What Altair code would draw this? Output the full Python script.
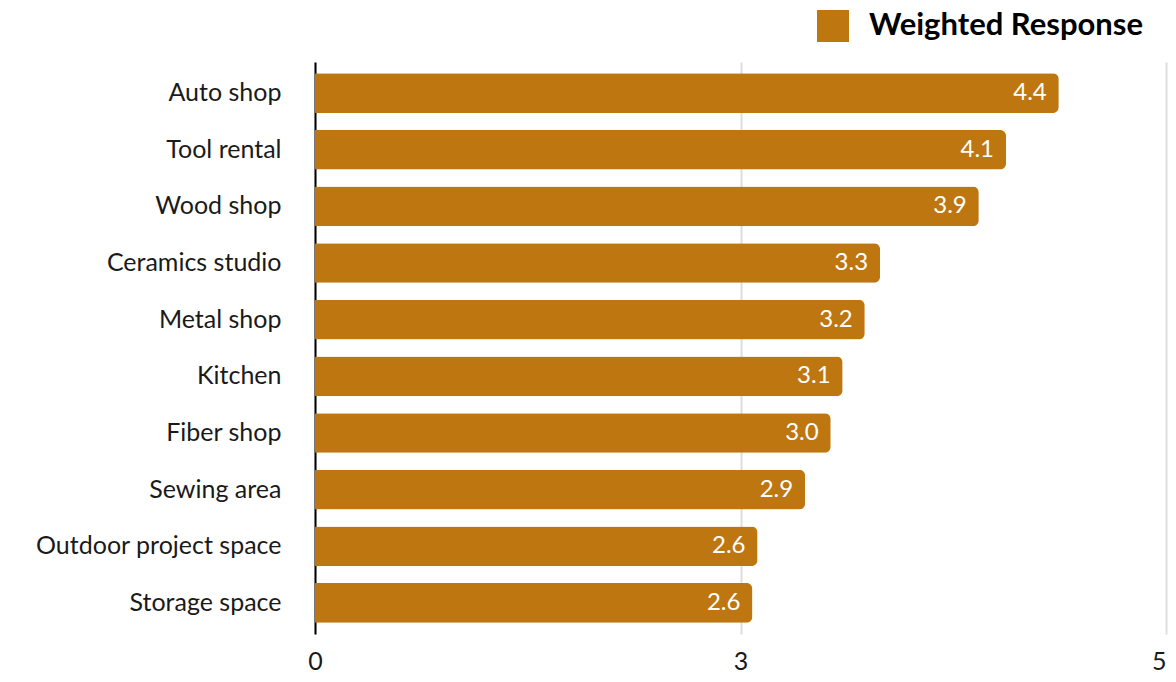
import altair as alt
import pandas as pd

categories = ["Auto shop", "Tool rental", "Wood shop", "Ceramics studio", "Metal shop",
              "Kitchen", "Fiber shop", "Sewing area", "Outdoor project space", "Storage space"]
values = [4.37, 4.06, 3.90, 3.32, 3.23, 3.10, 3.03, 2.88, 2.60, 2.57]
series = ["Weighted Response"] * len(categories)
x_ticks = [0, 2.5, 5]

df = pd.DataFrame({"category": categories, "value": values, "series": series})

FONT = "Lato"
COLOR = "#BE7610"

y_enc = alt.Y("category:N", sort=categories, title=None,
              scale=alt.Scale(paddingInner=0.3, paddingOuter=0.2),
              axis=alt.Axis(ticks=False, labelPadding=34, labelFontSize=25, labelFont=FONT,
                            labelColor="#1a1a1a", domainColor="#000000", domainWidth=2,
                            grid=False, labelLimit=400))
x_enc = alt.X("value:Q", title=None, scale=alt.Scale(domain=[0, 5], nice=False),
              axis=alt.Axis(values=x_ticks, format=".0f", domain=False, ticks=False,
                            labelFontSize=25, labelFont=FONT, labelColor="#1a1a1a",
                            labelPadding=15, labelFlush=False,
                            labelAlign=alt.ExprRef(expr="datum.value >= 5 ? 'right' : 'center'"),
                            gridColor="#dddddd", gridWidth=2))

bars = alt.Chart(df).mark_bar(cornerRadiusEnd=6).encode(
    y=y_enc, x=x_enc,
    color=alt.Color("series:N", scale=alt.Scale(range=[COLOR]), title=None,
                    legend=alt.Legend(orient="none", legendX=502, legendY=-52,
                                      symbolType="square", symbolSize=1024,
                                      symbolStrokeWidth=0, symbolOpacity=1,
                                      labelFontSize=31, labelFont=FONT, labelFontWeight="bold",
                                      labelColor="#000000", labelOffset=20, padding=0,
                                      labelLimit=400))
)

labels = alt.Chart(df).mark_text(align="right", baseline="middle", dx=-12, color="white",
                                 fontSize=24, font=FONT).encode(
    y=alt.Y("category:N", sort=categories),
    x=alt.X("value:Q"),
    text=alt.Text("value:Q", format=".1f"),
)

chart = alt.layer(bars, labels).properties(
    width=851, height=572,
    autosize=alt.AutoSizeParams(type="none"),
    padding={"left": 307, "top": 54, "right": 2, "bottom": 40},
).configure_view(stroke=None)

chart.save("out.html", embed_options={"renderer": "svg", "actions": False})
